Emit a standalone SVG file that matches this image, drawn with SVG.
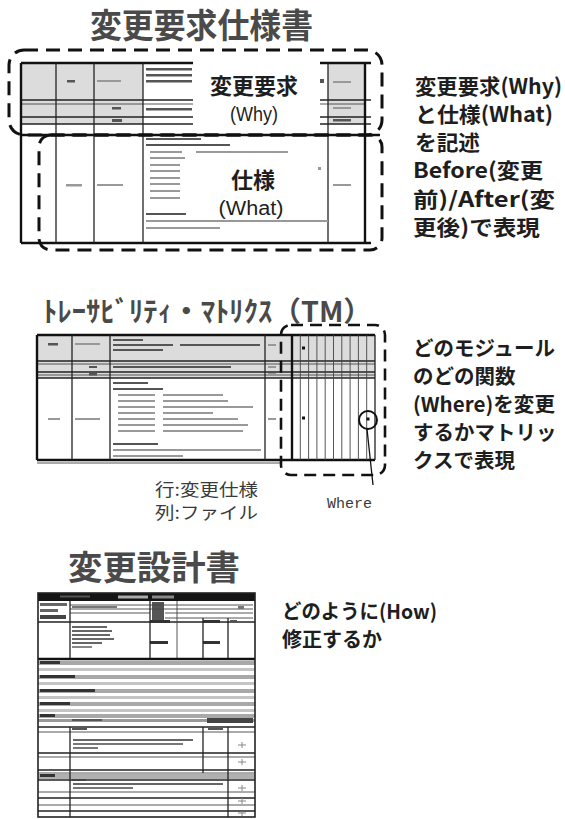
<svg xmlns="http://www.w3.org/2000/svg" width="565" height="819" viewBox="0 0 565 819">
<style>
.ttl{font-family:"Noto Sans CJK JP","Noto Sans",sans-serif;font-weight:700;fill:#4a4a4a}
.note{font-family:"Noto Sans CJK JP","Noto Sans",sans-serif;font-weight:700;fill:#1e1e1e}
.lbl{font-family:"Noto Sans CJK JP","Noto Sans",sans-serif;fill:#1e1e1e;text-anchor:middle}
.lat{font-family:"Liberation Sans","Noto Sans",sans-serif;fill:#1e1e1e;text-anchor:middle}
.sub{font-family:"Noto Sans CJK JP","Noto Sans",sans-serif;fill:#3a3a3a}
.mono{font-family:"Liberation Mono","DejaVu Sans Mono",monospace;fill:#3a3a3a}
.ln{stroke:#222;stroke-width:1.3;fill:none}
.lt{stroke:#444;stroke-width:0.9;fill:none}
.thk{stroke:#111;stroke-width:2.4;fill:none}
.dash{stroke:#111;stroke-width:3;fill:none;stroke-dasharray:14 8;stroke-linecap:butt}
.dash2{stroke:#111;stroke-width:2.6;fill:none;stroke-dasharray:12 7}
.tx{fill:#555}
.txl{fill:#999}
.gry{fill:#dcdcdc}
</style>

<!-- Section 1: 変更要求仕様書 -->
<g id="title-spec">
<text class="ttl" x="90" y="38" font-size="34" textLength="223" lengthAdjust="spacingAndGlyphs">変更要求仕様書</text>
</g>

<g id="spec-doc">
<rect class="gry" x="21" y="63" width="122" height="61"/>
<rect class="gry" x="328" y="63" width="37" height="61"/>
<line class="thk" x1="21" y1="63" x2="371" y2="63"/>
<line class="ln" x1="21" y1="100" x2="371" y2="100"/>
<line class="lt" x1="21" y1="104" x2="365" y2="104"/>
<line class="ln" x1="21" y1="117" x2="371" y2="117"/>
<line class="ln" x1="21" y1="124" x2="371" y2="124"/>
<line class="thk" x1="21" y1="135" x2="380" y2="135"/>
<line class="thk" x1="21" y1="243" x2="371" y2="243"/>
<line class="thk" x1="21" y1="63" x2="21" y2="243"/>
<line class="ln" x1="56" y1="63" x2="56" y2="243"/>
<line class="ln" x1="94" y1="63" x2="94" y2="243"/>
<line class="ln" x1="143" y1="63" x2="143" y2="243"/>
<line class="ln" x1="328" y1="63" x2="328" y2="243"/>
<line class="thk" x1="365" y1="63" x2="365" y2="243"/>
<rect class="tx" x="67" y="80" width="8" height="2.5"/>
<rect class="txl" x="97" y="80" width="24" height="2"/>
<rect class="tx" x="146" y="68" width="46" height="2.5"/>
<rect class="tx" x="146" y="74" width="46" height="2.5"/>
<rect class="tx" x="146" y="80" width="46" height="2.5"/>
<rect class="tx" x="146" y="108" width="46" height="2.5"/>
<rect class="tx" x="112" y="107" width="9" height="2.5"/>
<rect class="tx" x="112" y="119" width="10" height="3"/>
<rect class="tx" x="318" y="79" width="6" height="4"/>
<rect class="txl" x="333" y="81" width="18" height="2"/>
<rect class="txl" x="333" y="107" width="18" height="2"/>
<rect class="tx" x="333" y="119" width="18" height="2.5"/>
<rect class="txl" x="66" y="184" width="16" height="2.5"/>
<rect class="txl" x="97" y="184" width="26" height="2"/>
<rect class="txl" x="333" y="184" width="18" height="2"/>
<rect class="tx" x="146" y="138" width="55" height="2"/>
<rect class="tx" x="146" y="144" width="84" height="2"/>
<rect class="txl" x="150" y="151" width="32" height="2"/>
<rect class="txl" x="196" y="151" width="92" height="2"/>
<rect class="txl" x="150" y="157" width="35" height="2"/>
<rect class="txl" x="150" y="164" width="30" height="2"/>
<rect class="txl" x="150" y="170" width="30" height="2"/>
<rect class="txl" x="150" y="177" width="30" height="2"/>
<rect class="txl" x="150" y="183" width="30" height="2"/>
<rect class="txl" x="150" y="190" width="30" height="2"/>
<rect class="txl" x="150" y="197" width="30" height="2"/>
<rect class="tx" x="146" y="213" width="40" height="2"/>
<rect class="txl" x="146" y="220" width="182" height="2"/>
<rect class="txl" x="146" y="227" width="74" height="2"/>
<rect class="txl" x="318" y="167" width="3" height="3"/>
</g>

<g id="node-why">
<rect x="193" y="61" width="127" height="71" fill="#fff"/>
<text class="lbl" x="254" y="94" font-size="22" font-weight="700">変更要求</text>
<text class="lat" x="254" y="121" font-size="20" textLength="48" lengthAdjust="spacingAndGlyphs">(Why)</text>
</g>

<g id="node-what">
<text class="lbl" x="253" y="188" font-size="22" font-weight="700">仕様</text>
<text class="lat" x="251" y="215" font-size="20" textLength="65" lengthAdjust="spacingAndGlyphs">(What)</text>
</g>

<g id="frames-1">
<rect class="dash" x="9" y="50" width="373" height="85" rx="15"/>
<rect class="dash" x="39" y="135" width="343" height="115" rx="12"/>
</g>

<g id="note-1">
<text class="note" x="415" y="94" font-size="21" textLength="147" lengthAdjust="spacingAndGlyphs">変更要求(Why)</text>
<text class="note" x="415" y="122" font-size="21" textLength="138" lengthAdjust="spacingAndGlyphs">と仕様(What)</text>
<text class="note" x="415" y="150" font-size="21" textLength="65" lengthAdjust="spacingAndGlyphs">を記述</text>
<text class="note" x="413" y="178" font-size="21" textLength="130" lengthAdjust="spacingAndGlyphs">Before(変更</text>
<text class="note" x="413" y="207" font-size="21" textLength="142" lengthAdjust="spacingAndGlyphs">前)/After(変</text>
<text class="note" x="413" y="235" font-size="21" textLength="127" lengthAdjust="spacingAndGlyphs">更後)で表現</text>
</g>

<!-- Section 2: トレーサビリティ・マトリクス -->
<g id="title-tm">
<text class="ttl" x="43" y="322" font-size="28" fill="#333" textLength="329" lengthAdjust="spacingAndGlyphs">ﾄﾚｰｻﾋﾞﾘﾃｨ・ﾏﾄﾘｸｽ（TM）</text>
</g>

<g id="tm-matrix">
<rect class="gry" x="37" y="335" width="338" height="43"/>
<line class="thk" x1="37" y1="335" x2="375" y2="335"/>
<line class="ln" x1="37" y1="361" x2="375" y2="361"/>
<line class="lt" x1="37" y1="364" x2="375" y2="364"/>
<line class="ln" x1="37" y1="372" x2="375" y2="372"/>
<line class="lt" x1="37" y1="375" x2="375" y2="375"/>
<line class="ln" x1="37" y1="378" x2="375" y2="378"/>
<line class="thk" x1="37" y1="460" x2="375" y2="460"/>
<line class="lt" x1="37" y1="463" x2="280" y2="463"/>
<line class="thk" x1="37" y1="335" x2="37" y2="460"/>
<line class="ln" x1="72" y1="335" x2="72" y2="460"/>
<line class="ln" x1="110" y1="335" x2="110" y2="460"/>
<line class="ln" x1="265" y1="335" x2="265" y2="460"/>
<line class="thk" x1="292" y1="335" x2="292" y2="460"/>
<g class="lt">
<line x1="300.3" y1="335" x2="300.3" y2="460"/>
<line x1="308.6" y1="335" x2="308.6" y2="460"/>
<line x1="316.9" y1="335" x2="316.9" y2="460"/>
<line x1="325.2" y1="335" x2="325.2" y2="460"/>
<line x1="333.5" y1="335" x2="333.5" y2="460"/>
<line x1="341.8" y1="335" x2="341.8" y2="460"/>
<line x1="350.1" y1="335" x2="350.1" y2="460"/>
<line x1="358.4" y1="335" x2="358.4" y2="460"/>
<line x1="366.7" y1="335" x2="366.7" y2="460"/>
</g>
<line class="ln" x1="375" y1="335" x2="375" y2="460"/>
<rect class="tx" x="48" y="343" width="10" height="2.5"/>
<rect class="txl" x="75" y="343" width="25" height="2"/>
<rect class="tx" x="113" y="339" width="30" height="2"/>
<rect class="tx" x="113" y="344" width="60" height="2"/>
<rect class="tx" x="180" y="344" width="80" height="2"/>
<rect class="tx" x="113" y="349" width="50" height="2"/>
<rect class="tx" x="89" y="366" width="8" height="2"/>
<rect class="tx" x="89" y="373" width="8" height="2.5"/>
<rect class="tx" x="113" y="366" width="118" height="2"/>
<rect class="txl" x="268" y="344" width="8" height="2"/>
<rect class="txl" x="268" y="366" width="8" height="2"/>
<rect class="txl" x="268" y="373" width="8" height="2"/>
<rect class="txl" x="268" y="418" width="8" height="2"/>
<rect class="txl" x="48" y="418" width="12" height="2"/>
<rect class="txl" x="75" y="418" width="25" height="2"/>
<rect class="tx" x="113" y="382" width="35" height="2"/>
<rect class="tx" x="113" y="388" width="50" height="2"/>
<rect class="txl" x="118" y="394" width="37" height="2"/>
<rect class="txl" x="163" y="394" width="60" height="2"/>
<rect class="txl" x="118" y="400" width="37" height="2"/>
<rect class="txl" x="163" y="400" width="65" height="2"/>
<rect class="txl" x="118" y="406" width="37" height="2"/>
<rect class="txl" x="163" y="406" width="90" height="2"/>
<rect class="txl" x="118" y="412" width="37" height="2"/>
<rect class="txl" x="163" y="412" width="50" height="2"/>
<rect class="txl" x="118" y="418" width="37" height="2"/>
<rect class="txl" x="163" y="418" width="75" height="2"/>
<rect class="txl" x="118" y="424" width="37" height="2"/>
<rect class="txl" x="163" y="424" width="85" height="2"/>
<rect class="txl" x="118" y="430" width="37" height="2"/>
<rect class="txl" x="163" y="430" width="80" height="2"/>
<rect class="tx" x="113" y="443" width="45" height="2"/>
<rect class="txl" x="113" y="449" width="148" height="2"/>
<rect class="txl" x="113" y="455" width="70" height="2"/>
<rect x="302" y="346.5" width="3" height="3" fill="#111"/>
<rect x="302" y="416.5" width="3" height="3" fill="#111"/>
<rect x="366.5" y="417.5" width="3" height="3" fill="#111"/>
</g>

<g id="frames-2">
<rect class="dash2" x="281" y="325" width="104" height="150" rx="10"/>
</g>

<g id="node-where">
<circle cx="368" cy="420" r="9" fill="none" stroke="#111" stroke-width="2"/>
<line x1="367" y1="429" x2="373" y2="485" stroke="#111" stroke-width="1.3"/>
<text class="mono" x="327" y="508" font-size="15" fill="#444">Where</text>
</g>

<g id="node-axes">
<text class="sub" x="155" y="496" font-size="17" textLength="103" lengthAdjust="spacingAndGlyphs">行:変更仕様</text>
<text class="sub" x="155" y="519" font-size="17" textLength="103" lengthAdjust="spacingAndGlyphs">列:ファイル</text>
</g>

<g id="note-2">
<text class="note" x="413" y="356" font-size="20.5">どのモジュール</text>
<text class="note" x="413" y="384" font-size="20.5">のどの関数</text>
<text class="note" x="413" y="412" font-size="20.5" textLength="142" lengthAdjust="spacingAndGlyphs">(Where)を変更</text>
<text class="note" x="413" y="440" font-size="20.5">するかマトリッ</text>
<text class="note" x="413" y="468" font-size="20.5">クスで表現</text>
</g>

<!-- Section 3: 変更設計書 -->
<g id="title-design">
<text class="ttl" x="68" y="580" font-size="34" textLength="172" lengthAdjust="spacingAndGlyphs">変更設計書</text>
</g>

<g id="design-doc">
<rect x="38" y="593" width="217" height="8" fill="#151515"/>
<rect x="118" y="595.5" width="30" height="3" fill="#aaa"/>
<rect x="152" y="595.5" width="22" height="3" fill="#888"/>
<rect x="60" y="595.5" width="30" height="2" fill="#555"/>
<rect x="40" y="603" width="27" height="3" fill="#666"/>
<rect x="40" y="609" width="18" height="3" fill="#666"/>
<rect x="40" y="615" width="26" height="4" fill="#444"/>
<rect x="152" y="602" width="12" height="20" fill="#555"/>
<line class="lt" x1="70" y1="605" x2="253" y2="605"/>
<line class="lt" x1="70" y1="609" x2="253" y2="609"/>
<line class="lt" x1="70" y1="613" x2="150" y2="613"/>
<line class="lt" x1="165" y1="613" x2="253" y2="613"/>
<line class="lt" x1="165" y1="618" x2="253" y2="618"/>
<line class="ln" x1="38" y1="622" x2="255" y2="622"/>
<rect x="150" y="620" width="20" height="3" fill="#333"/>
<rect x="203" y="620" width="17" height="3" fill="#333"/>
<rect x="230" y="620" width="7" height="3" fill="#555"/>
<rect x="238" y="606" width="6" height="3" fill="#777"/>
<rect x="72" y="606" width="45" height="2" fill="#777"/>
<rect x="72" y="626" width="35" height="2" fill="#666"/>
<rect x="72" y="630" width="40" height="2" fill="#666"/>
<rect x="72" y="634" width="38" height="2" fill="#666"/>
<rect x="72" y="638" width="42" height="2" fill="#666"/>
<rect x="72" y="642" width="30" height="2" fill="#666"/>
<rect x="72" y="646" width="20" height="2" fill="#888"/>
<rect x="150" y="641" width="18" height="3" fill="#333"/>
<rect x="203" y="641" width="17" height="3" fill="#333"/>
<line class="ln" x1="70" y1="601" x2="70" y2="658"/>
<line class="ln" x1="150" y1="601" x2="150" y2="658"/>
<line class="lt" x1="177" y1="601" x2="177" y2="658"/>
<line class="ln" x1="203" y1="618" x2="203" y2="658"/>
<line class="ln" x1="228" y1="618" x2="228" y2="658"/>
<line class="thk" x1="38" y1="659" x2="255" y2="659"/>
<rect x="38" y="661" width="217" height="4" fill="#a8a8a8"/>
<rect x="40" y="661" width="20" height="3" fill="#333"/>
<rect x="38" y="668" width="217" height="3" fill="#c4c4c4"/>
<rect x="38" y="675" width="217" height="4" fill="#a8a8a8"/>
<rect x="40" y="675" width="35" height="3" fill="#333"/>
<rect x="38" y="682" width="217" height="3" fill="#c4c4c4"/>
<rect x="38" y="689" width="217" height="4" fill="#a8a8a8"/>
<rect x="40" y="689" width="55" height="3" fill="#333"/>
<rect x="38" y="696" width="217" height="3" fill="#c4c4c4"/>
<rect x="38" y="702" width="217" height="4" fill="#a8a8a8"/>
<rect x="40" y="702" width="30" height="3" fill="#333"/>
<rect x="38" y="709" width="217" height="3" fill="#c4c4c4"/>
<rect x="38" y="714" width="217" height="4" fill="#a8a8a8"/>
<rect x="40" y="714" width="15" height="3" fill="#333"/>
<rect x="38" y="719" width="217" height="3" fill="#999"/>
<rect x="207" y="718" width="46" height="5" fill="#444"/>
<rect x="72" y="719" width="30" height="2" fill="#555"/>
<line class="ln" x1="38" y1="727" x2="255" y2="727"/>
<line class="lt" x1="38" y1="732" x2="255" y2="732"/>
<rect x="72" y="728" width="15" height="2" fill="#555"/>
<rect x="208" y="728" width="15" height="2" fill="#555"/>
<rect x="73" y="739" width="120" height="2" fill="#666"/>
<rect x="73" y="743" width="110" height="2" fill="#777"/>
<rect x="73" y="747" width="25" height="2" fill="#777"/>
<line class="ln" x1="38" y1="753" x2="255" y2="753"/>
<line class="lt" x1="38" y1="757" x2="255" y2="757"/>
<line class="ln" x1="38" y1="770" x2="255" y2="770"/>
<line class="lt" x1="38" y1="773" x2="255" y2="773"/>
<rect x="38" y="774" width="217" height="5" fill="#b0b0b0"/>
<rect x="40" y="774" width="15" height="3" fill="#333"/>
<line class="ln" x1="38" y1="780" x2="255" y2="780"/>
<rect x="72" y="779" width="14" height="2" fill="#444"/>
<rect x="73" y="783" width="150" height="2" fill="#666"/>
<rect x="73" y="787" width="60" height="2" fill="#777"/>
<line class="lt" x1="38" y1="792" x2="255" y2="792"/>
<line class="ln" x1="38" y1="798" x2="255" y2="798"/>
<line class="lt" x1="38" y1="805" x2="255" y2="805"/>
<line class="ln" x1="38" y1="811" x2="255" y2="811"/>
<line class="ln" x1="70" y1="727" x2="70" y2="817"/>
<line class="ln" x1="203" y1="727" x2="203" y2="773"/>
<line class="ln" x1="228" y1="727" x2="228" y2="817"/>
<g stroke="#888" stroke-width="1">
<line x1="238" y1="745" x2="246" y2="745"/><line x1="242" y1="742" x2="242" y2="748"/>
<line x1="238" y1="762" x2="246" y2="762"/><line x1="242" y1="759" x2="242" y2="765"/>
<line x1="238" y1="788" x2="246" y2="788"/><line x1="242" y1="785" x2="242" y2="791"/>
<line x1="238" y1="801" x2="246" y2="801"/><line x1="242" y1="798" x2="242" y2="804"/>
<line x1="238" y1="813" x2="246" y2="813"/><line x1="242" y1="811" x2="242" y2="816"/>
</g>
<rect x="38" y="593" width="217" height="224" fill="none" stroke="#222" stroke-width="1.6"/>
</g>

<g id="note-3">
<text class="note" x="282" y="619" font-size="20" textLength="155" lengthAdjust="spacingAndGlyphs">どのように(How)</text>
<text class="note" x="282" y="647" font-size="20">修正するか</text>
</g>
</svg>
